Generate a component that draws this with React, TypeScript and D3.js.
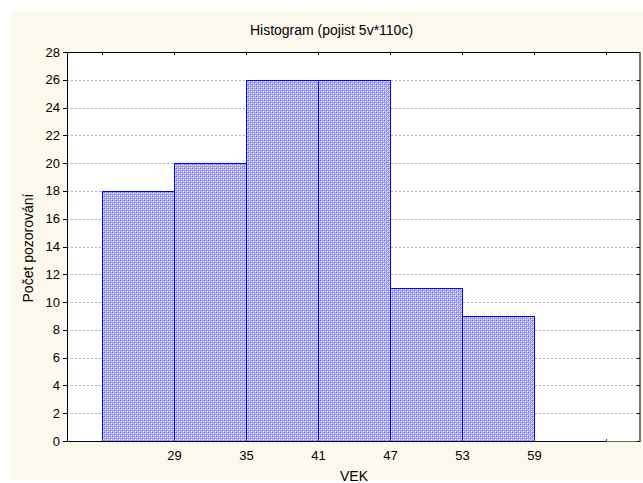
import React from "react";
import * as d3 from "d3";

const binStarts = [23, 29, 35, 41, 47, 53, 59];
const binWidth = 6;
const counts = [18, 20, 26, 26, 11, 9, 0];
const xTickLabels = [29, 35, 41, 47, 53, 59];
const yTicks = d3.range(0, 29, 2);
const title = "Histogram (pojist 5v*110c)";
const xLabel = "VEK";
const yLabel = "Počet pozorování";

const W = 643, H = 483;
const left = 67, right = 640, top = 52, bottom = 441;

export default function App() {
  const x = d3.scaleLinear().domain([20.08, 67.83]).range([left, right]);
  const y = d3.scaleLinear().domain([0, 28]).range([bottom, top]);
  const font = "Liberation Sans, Arial, sans-serif";
  const edges = [...binStarts, binStarts[binStarts.length - 1] + binWidth];
  return (
    <svg width={W} height={H} style={{ position: "absolute", left: 0, top: 0 }}>
      <defs>
        <pattern id="dots" width={4} height={4} patternUnits="userSpaceOnUse">
          <rect width={4} height={4} fill="#9a9af6" />
          <rect x={1} y={1} width={1} height={1} fill="#ffffff" />
          <rect x={3} y={3} width={1} height={1} fill="#ffffff" />
          <rect x={1} y={3} width={1} height={1} fill="#dadafc" />
          <rect x={3} y={1} width={1} height={1} fill="#dadafc" />
          <rect x={0} y={0} width={1} height={1} fill="#7a7af2" />
          <rect x={2} y={2} width={1} height={1} fill="#7a7af2" />
          <rect x={2} y={0} width={1} height={1} fill="#b8b8f8" />
          <rect x={0} y={2} width={1} height={1} fill="#b8b8f8" />
        </pattern>
      </defs>
      <rect x={11} y={12} width={W - 11} height={468} fill="#fdf8ee" />
      <rect x={left} y={top} width={right - left} height={bottom - top} fill="#ffffff" />
      {yTicks.filter(t => t > 0 && t < 28).map(t => (
        <line key={"g" + t} x1={left} x2={right} y1={Math.round(y(t)) + 0.5} y2={Math.round(y(t)) + 0.5}
          stroke="#b4b4b4" strokeDasharray="2,2" />
      ))}
      {binStarts.map((s, i) => {
        const x0 = Math.round(x(s)) + 0.5, x1 = Math.round(x(s + binWidth)) + 0.5;
        const yt = Math.round(y(counts[i])) + 0.5;
        return (
          <rect key={"b" + i} x={x0} y={yt} width={x1 - x0} height={bottom + 0.5 - yt}
            fill="url(#dots)" stroke="#0000ff" strokeWidth={1} />
        );
      })}
      {/* frame */}
      <line x1={left + 0.5} x2={left + 0.5} y1={top} y2={bottom + 1} stroke="#000" />
      <line x1={left} x2={right} y1={top + 0.5} y2={top + 0.5} stroke="#000" />
      <line x1={left} x2={x(65)} y1={bottom + 0.5} y2={bottom + 0.5} stroke="#000033" />
      <line x1={x(65)} x2={right} y1={bottom + 0.5} y2={bottom + 0.5} stroke="#666" />
      <line x1={right} x2={right} y1={top} y2={bottom + 1} stroke="#777" strokeWidth={2} />
      {/* y ticks */}
      {yTicks.map(t => (
        <g key={"y" + t}>
          <line x1={left - 4} x2={left} y1={Math.round(y(t)) + 0.5} y2={Math.round(y(t)) + 0.5} stroke="#000" />
          <line x1={right - 3} x2={right} y1={Math.round(y(t)) + 0.5} y2={Math.round(y(t)) + 0.5} stroke="#000" />
          <text x={left - 7} y={y(t) + 4.5} textAnchor="end" fontFamily={font} fontSize={13} fill="#000">{t}</text>
        </g>
      ))}
      {/* top & bottom ticks */}
      {edges.map(e => (
        <g key={"t" + e}>
          <line x1={Math.round(x(e)) + 0.5} x2={Math.round(x(e)) + 0.5} y1={top} y2={top + 3} stroke="#000" />
          <line x1={Math.round(x(e)) + 0.5} x2={Math.round(x(e)) + 0.5} y1={bottom - 2} y2={bottom} stroke="#444" />
        </g>
      ))}
      {xTickLabels.map(t => (
        <text key={"xl" + t} x={x(t) + 0.5} y={460} textAnchor="middle" fontFamily={font} fontSize={13} fill="#000">{t}</text>
      ))}
      <text x={331.5} y={35} textAnchor="middle" fontFamily={font} fontSize={14} fill="#000">{title}</text>
      <text x={354} y={481} textAnchor="middle" fontFamily={font} fontSize={14} fill="#000">{xLabel}</text>
      <text transform={`translate(33,248) rotate(-90)`} textAnchor="middle" fontFamily={font} fontSize={14} fill="#000">{yLabel}</text>
    </svg>
  );
}
